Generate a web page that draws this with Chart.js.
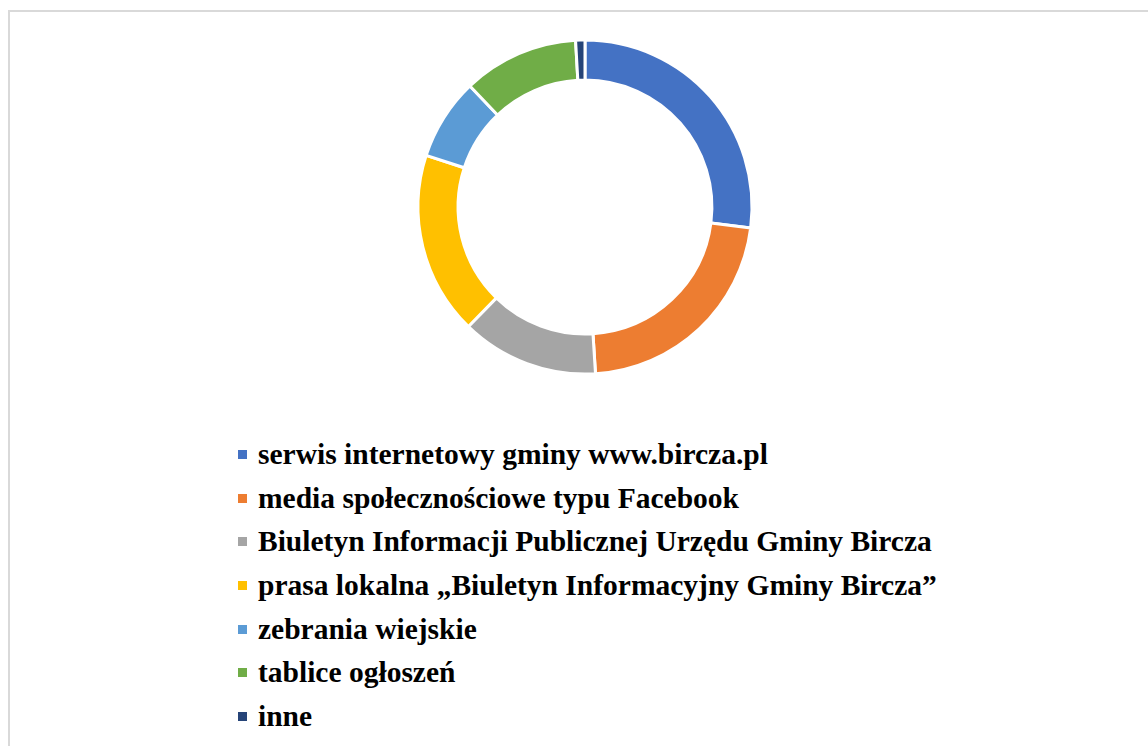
<!DOCTYPE html>
<html lang="pl">
<head>
<meta charset="utf-8">
<script src="https://cdn.jsdelivr.net/npm/chart.js@4"></script>
<style>
  html, body { margin: 0; padding: 0; background: #fff; width: 1148px; height: 746px; overflow: hidden; }
  .frame { position: absolute; left: 8px; top: 10px; width: 1160px; height: 760px; border-left: 2px solid #d9d9d9; border-top: 2px solid #d9d9d9; }
  .chart-box { position: absolute; left: 405px; top: 27px; width: 360px; height: 360px; }
  #legend { position: absolute; left: 238px; top: 432px; margin: 0; padding: 0; list-style: none;
    font-family: "Liberation Serif", "Times New Roman", serif; font-weight: bold; font-size: 29.5px; color: #000; }
  #legend li { height: 43.7px; line-height: 44px; white-space: nowrap; }
  #legend .box { display: inline-block; width: 9px; height: 9px; margin-right: 11px; vertical-align: 5px; }
</style>
</head>
<body>
<div class="frame"></div>
<div class="chart-box"><canvas id="donut"></canvas></div>
<ul id="legend"></ul>
<script>
// Sposób informowania mieszkańców, udział w %
const labels = [
  'serwis internetowy gminy www.bircza.pl',
  'media społecznościowe typu Facebook',
  'Biuletyn Informacji Publicznej Urzędu Gminy Bircza',
  'prasa lokalna „Biuletyn Informacyjny Gminy Bircza”',
  'zebrania wiejskie',
  'tablice ogłoszeń',
  'inne',
];
const values = [27.0, 22.0, 13.3, 17.7, 7.9, 11.2, 0.9];
const colors = ['#4472C4', '#ED7D31', '#A5A5A5', '#FFC000', '#5B9BD5', '#70AD47', '#264478'];

function buildLegend() {
  const list = document.getElementById('legend');
  labels.forEach((label, i) => {
    const item = document.createElement('li');
    const box = document.createElement('span');
    box.className = 'box';
    box.style.background = colors[i];
    item.appendChild(box);
    item.appendChild(document.createTextNode(label));
    list.appendChild(item);
  });
}

new Chart(document.getElementById('donut'), {
  type: 'doughnut',
  data: {
    labels: labels,
    datasets: [
      {
        data: values,
        backgroundColor: colors,
        borderColor: '#ffffff',
        borderWidth: 3,
        hoverOffset: 0,
      },
    ],
  },
  options: {
    responsive: true,
    maintainAspectRatio: false,
    animation: false,
    radius: 167,
    cutout: '76%',
    plugins: {
      legend: { display: false },
      tooltip: { enabled: false },
    },
  },
});

buildLegend();
</script>
</body>
</html>
